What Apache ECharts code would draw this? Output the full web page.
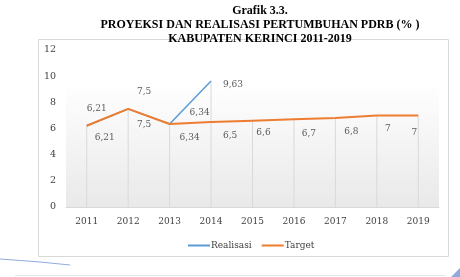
<!DOCTYPE html>
<html>
<head>
<meta charset="utf-8">
<script src="https://cdn.jsdelivr.net/npm/echarts@6/dist/echarts.min.js"></script>
<style>
  html, body { margin: 0; padding: 0; background: #fff; }
  #chart { width: 460px; height: 277px; }
</style>
</head>
<body>
<div id="chart"></div>
<script>
var years = ["2011", "2012", "2013", "2014", "2015", "2016", "2017", "2018", "2019"];
var realisasi = [6.21, 7.5, 6.34, 9.63, null, null, null, null, null];
var target = [6.21, 7.5, 6.34, 6.5, 6.6, 6.7, 6.8, 7, 7];
var yTicks = [0, 2, 4, 6, 8, 10, 12];

// label nudges (px) so the numbers sit like in the original
var realOffsets = [[10, -17], [16, -17], [30, -11], [22, 4]];
var targetOffsets = [[18, 12], [16, 16], [20, 14], [19, 14], [11, 12], [15, 14], [16, 14], [11, 13], [-4, 17]];

// drop lines go from the axis up to the higher of the two series
var dropLines = years.map(function (y, i) {
  return Math.max(target[i], realisasi[i] == null ? 0 : realisasi[i]);
});

function comma(p) {
  return String(p.value).replace(".", ",");
}

var serif = "DejaVu Serif";
var dom = echarts.init(document.getElementById("chart"));

var option = {
  animation: false,
  title: {
    text: "Grafik 3.3.\nPROYEKSI DAN REALISASI PERTUMBUHAN PDRB (% )\nKABUPATEN KERINCI 2011-2019",
    left: 255,
    top: -1,
    textAlign: "center",
    textStyle: {
      fontFamily: "Liberation Serif",
      fontWeight: "bold",
      fontSize: 12,
      lineHeight: 14,
      color: "#000"
    }
  },
  legend: {
    data: ["Realisasi", "Target"],
    left: 183,
    top: 236,
    icon: "rect",
    itemWidth: 22,
    itemHeight: 2,
    itemGap: 10,
    textStyle: {
      fontFamily: serif,
      fontSize: 9,
      color: "#404040",
      padding: [0, 0, 0, -4]
    }
  },
  grid: {
    left: 66,
    right: 21,
    top: 50,
    bottom: 70,
    show: true,
    borderWidth: 0,
    backgroundColor: new echarts.graphic.LinearGradient(0, 0, 0, 1, [
      { offset: 0, color: "#ffffff" },
      { offset: 0.2, color: "#ffffff" },
      { offset: 1, color: "#e9e9e9" }
    ])
  },
  xAxis: {
    type: "category",
    data: years,
    boundaryGap: true,
    axisLine: { lineStyle: { color: "#d9d9d9" } },
    axisTick: { show: false },
    axisLabel: {
      fontFamily: serif,
      fontSize: 9,
      color: "#404040",
      margin: 10
    }
  },
  yAxis: {
    type: "value",
    min: yTicks[0],
    max: yTicks[yTicks.length - 1],
    interval: 2,
    splitLine: { show: false },
    axisLine: { show: false },
    axisTick: { show: false },
    axisLabel: {
      fontFamily: serif,
      fontSize: 9.5,
      color: "#404040",
      margin: 10
    }
  },
  series: [
    {
      name: "drop",
      type: "bar",
      data: dropLines,
      barWidth: 1,
      silent: true,
      itemStyle: { color: "#d9d9d9" },
      z: 1
    },
    {
      name: "Realisasi",
      type: "line",
      data: realisasi,
      showSymbol: false,
      symbol: "none",
      lineStyle: { color: "#5b9bd5", width: 1.5 },
      itemStyle: { color: "#5b9bd5" },
      label: { show: false },
      z: 3
    },
    {
      name: "Target",
      type: "line",
      data: target,
      showSymbol: false,
      symbol: "none",
      lineStyle: { color: "#ed7d31", width: 2 },
      itemStyle: { color: "#ed7d31" },
      z: 4
    },
    {
      // data labels for both series, drawn as invisible scatter points
      name: "realLabels",
      type: "scatter",
      data: realisasi.map(function (v, i) {
        if (v == null) return null;
        return { value: v, label: { offset: realOffsets[i] } };
      }),
      symbolSize: 0,
      silent: true,
      label: {
        show: true,
        position: "inside",
        formatter: comma,
        fontFamily: serif,
        fontSize: 9,
        color: "#333333"
      },
      z: 5
    },
    {
      name: "targetLabels",
      type: "scatter",
      data: target.map(function (v, i) {
        return { value: v, label: { offset: targetOffsets[i] } };
      }),
      symbolSize: 0,
      silent: true,
      label: {
        show: true,
        position: "inside",
        formatter: comma,
        fontFamily: serif,
        fontSize: 9,
        color: "#333333"
      },
      z: 5
    }
  ],
  graphic: [
    {
      type: "rect",
      shape: { x: 38.5, y: 39.5, width: 410, height: 217 },
      style: { fill: "none", stroke: "#d9d9d9", lineWidth: 1 },
      z: 0
    },
    {
      type: "polyline",
      shape: { points: [[0, 259], [40, 262], [70, 265]] },
      style: { stroke: "#8faadc", lineWidth: 1, fill: "none" }
    },
    {
      type: "line",
      shape: { x1: 15, y1: 275.5, x2: 445, y2: 275.5 },
      style: { stroke: "#e6e6e6", lineWidth: 1 }
    },
    {
      type: "polygon",
      shape: { points: [[460, 268], [460, 277], [451, 277]] },
      style: { fill: "#8faadc" }
    }
  ]
};

dom.setOption(option);
window.addEventListener("resize", function () {
  dom.resize();
});
</script>
</body>
</html>
